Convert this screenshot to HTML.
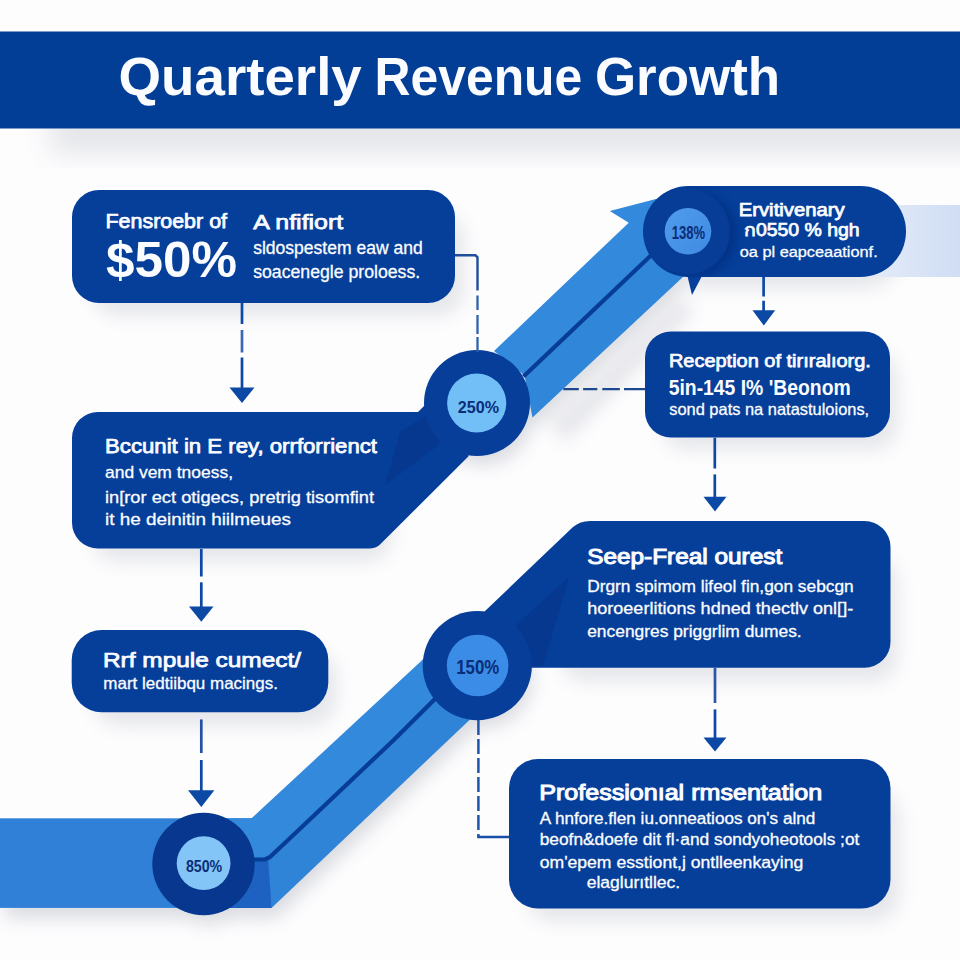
<!DOCTYPE html>
<html>
<head>
<meta charset="utf-8">
<title>Quarterly Revenue Growth</title>
<style>
html,body{margin:0;padding:0;background:#fdfdfe;}
body{width:960px;height:960px;overflow:hidden;font-family:"Liberation Sans",sans-serif;}
svg{display:block;}
text{font-family:"Liberation Sans",sans-serif;fill:#fbfcff;stroke:#fbfcff;stroke-width:0.3px;}
.sb{stroke-width:0.75px;}
.sb2{stroke-width:1.05px;}
.b{font-weight:bold;stroke:none;}
.pct{font-weight:bold;fill:#0a2d78;stroke:none;}
</style>
</head>
<body>
<svg width="960" height="960" viewBox="0 0 960 960">
<defs>
  <filter id="sh" x="-20%" y="-20%" width="140%" height="160%">
    <feGaussianBlur stdDeviation="9"/>
  </filter>
  <filter id="sh2" x="-20%" y="-20%" width="140%" height="160%">
    <feGaussianBlur stdDeviation="14"/>
  </filter>
  <linearGradient id="band" x1="0" y1="0" x2="1" y2="0">
    <stop offset="0" stop-color="#e6edf9"/>
    <stop offset="1" stop-color="#d0ddf4"/>
  </linearGradient>
  <radialGradient id="in1" cx="0.5" cy="0.4" r="0.7">
    <stop offset="0" stop-color="#74bcf8"/>
    <stop offset="1" stop-color="#4f9fee"/>
  </radialGradient>
  <filter id="sh3" x="-30%" y="-30%" width="160%" height="160%"><feGaussianBlur stdDeviation="4"/></filter>
  <clipPath id="pillclip"><rect x="643" y="186" width="263" height="91" rx="45.5"/></clipPath>
  <linearGradient id="in3" x1="0" y1="0" x2="1" y2="1">
    <stop offset="0" stop-color="#4f9bec"/>
    <stop offset="1" stop-color="#3f8be2"/>
  </linearGradient>
</defs>

<!-- background -->
<rect x="0" y="0" width="960" height="960" fill="#fdfdfe"/>

<!-- SHADOWS -->
<g id="shadows" fill="#50546c" opacity="0.13" filter="url(#sh)">
  <rect x="92" y="212" width="372" height="104" rx="26"/>
  <rect x="92" y="436" width="300" height="126" rx="26"/>
  <rect x="92" y="650" width="245" height="76" rx="28"/>
  <rect x="662" y="352" width="236" height="98" rx="26"/>
  <rect x="560" y="556" width="338" height="126" rx="26"/>
  <rect x="526" y="790" width="374" height="132" rx="28"/>
  <rect x="662" y="215" width="240" height="74" rx="40"/>
</g>

<rect x="50" y="112" width="940" height="40" fill="#50546c" opacity="0.15" filter="url(#sh2)"/>
<!-- BANNER -->
<rect id="banner" x="0" y="31.5" width="960" height="97" fill="#023d96"/>

<!-- light band right -->
<rect x="860" y="205" width="100" height="72" fill="url(#band)"/>

<!-- RIBBONS placeholder -->
<g id="ribbons">
  <!-- ribbon soft shadow -->
  <g fill="#50546c" opacity="0.2" filter="url(#sh)" transform="translate(5,10)">
    <polygon points="0,840 271,840 271,908 470,719 445,690 271,850 271,908 0,908"/>
    <polygon points="529.6,416.7 681,275 660,260 510,400"/>
    <polygon points="545,415 675,290 690,300 560,432" opacity="0.7"/>
    <circle cx="477.3" cy="668" r="50"/>
    <circle cx="477" cy="405" r="50"/>
    <circle cx="203.5" cy="866" r="48"/>
  </g>
  <!-- lower horizontal ribbon -->
  <rect x="0" y="818.3" width="272" height="89.6" fill="#2f80d6"/>
  <!-- darker fold near circle 0 -->
  <polygon points="203,858 268,858 271.5,907.9 203,907.9" fill="#1d62c0"/>
  <!-- lower diagonal ribbon: upper band -->
  <polygon points="251.5,818.3 425,657.6 445,690 270,857 203,858 203,818.3" fill="#3389dc"/>
  <!-- lower diagonal ribbon: lower band -->
  <polygon points="270,857 445,690 470,719.5 271.5,907.9" fill="#2f84d8"/>
  <!-- lower centre line -->
  <polyline points="230,860 265,859.3 270,857 300,828.75 393.75,740 440,694" fill="none" stroke="#073c97" stroke-width="4.2" stroke-linejoin="round"/>

  <!-- upper diagonal ribbon: upper band -->
  <polygon points="494,351 628.75,222.7 609.8,211 656,199 700,240 650,256 524.5,375.5" fill="#3389dc"/>
  <!-- upper diagonal ribbon: lower band -->
  <polygon points="524.5,375.5 650,256 700,250 684,276 532.5,417.5" fill="#3086d9"/>
  <!-- upper centre line -->
  <line x1="523.5" y1="376.5" x2="653.5" y2="253" stroke="#073c97" stroke-width="4.2"/>
</g>

<!-- BOXES placeholder -->
<g id="boxes" fill="#053f9a">
  <!-- box 1 -->
  <rect x="72" y="190" width="383" height="113" rx="27"/>
  <!-- box 2 with diagonal right side -->
  <path d="M98,412 H418 L430,400 L477,403 L468.3,456.6 L380,544.5 Q376,548.5 369,548.5 H98 A26,26 0 0 1 72,522.5 V438 A26,26 0 0 1 98,412 Z"/>
  <!-- box 2 dark wedge -->
  <polygon points="385,485 400,432 427,415 477,403 436,447" fill="#063890"/>
  <!-- box 3 pill -->
  <rect x="643" y="186" width="263" height="91" rx="45.5"/>
  <!-- small barb below circle 3 -->
  <polygon points="686,270 703,274 692,295" fill="#053f9a"/>
  <!-- box 4 -->
  <rect x="645" y="331.5" width="245" height="106" rx="26"/>
  <!-- box 5 with diagonal left side -->
  <path d="M590,521 H864.5 A26,26 0 0 1 890.5,547 V641.7 A26,26 0 0 1 864.5,667.7 H500 L470,620 L484,612 L573,527 Q580,521 590,521 Z"/>
  <!-- box 5 dark wedge -->
  <polygon points="569,577 516,625 531,666 543,666" fill="#063890"/>
  <!-- box 6 -->
  <rect x="509" y="759" width="381.5" height="149.5" rx="29"/>
  <!-- box 7 -->
  <rect x="71.7" y="630" width="256.6" height="82.3" rx="30"/>
</g>

<!-- CIRCLES placeholder -->
<g id="circles">
  <!-- circle 0 (850%) -->
  <circle cx="203.5" cy="864" r="51.2" fill="#083790"/>
  <circle cx="203.6" cy="863.2" r="26.9" fill="#82c5f6"/>
  <!-- circle 1 (150%) -->
  <circle cx="477.3" cy="665.6" r="54.6" fill="#063e99"/>
  <circle cx="477.6" cy="665.5" r="30.8" fill="#3b8ce6"/>
  <!-- circle 2 (250%) -->
  <circle cx="477" cy="403" r="53" fill="#063e99"/>
  <circle cx="476.7" cy="403" r="29.6" fill="#72bff8"/>
  <!-- circle 3 (138%) -->
  <g clip-path="url(#pillclip)"><circle cx="694" cy="234" r="43" fill="#062a78" opacity="0.55" filter="url(#sh3)"/></g>
  <circle cx="687" cy="231.5" r="43" fill="#073c97"/>
  <circle cx="688" cy="231.3" r="23.3" fill="url(#in3)"/>
</g>

<!-- CONNECTORS placeholder -->
<g id="connectors" stroke="#0c49a4" fill="none" stroke-width="2.7">
  <!-- arrow 1: box1 -> box2 -->
  <line x1="242" y1="303" x2="242" y2="324"/>
  <line x1="242" y1="330" x2="242" y2="352.5" stroke="#3a68b4"/>
  <line x1="242" y1="357.5" x2="242" y2="388"/>
  <polygon points="229.5,387.5 254.5,387.5 242,403" fill="#0c49a4" stroke="none"/>
  <!-- arrow 2: box2 -> box7 -->
  <line x1="201.3" y1="549" x2="201.3" y2="576.5"/>
  <line x1="201.3" y1="582.3" x2="201.3" y2="607"/>
  <polygon points="189,606.5 213.5,606.5 201.3,621.7" fill="#0c49a4" stroke="none"/>
  <!-- arrow 7: box7 -> circle0 -->
  <line x1="201.3" y1="719.4" x2="201.3" y2="753" stroke="#2451a8"/>
  <line x1="201.3" y1="760" x2="201.3" y2="791"/>
  <polygon points="188,790.2 214.4,790.2 201.3,807" fill="#0c49a4" stroke="none"/>
  <!-- arrow 3: box3 -> box4 -->
  <line x1="763.6" y1="277" x2="763.6" y2="296.5"/>
  <line x1="763.6" y1="300.8" x2="763.6" y2="311"/>
  <polygon points="752.5,310.2 775.2,310.2 763.8,325.6" fill="#0c49a4" stroke="none"/>
  <!-- arrow 4: box4 -> box5 -->
  <line x1="714.8" y1="437.7" x2="714.8" y2="468.5"/>
  <line x1="714.8" y1="474.4" x2="714.8" y2="497.5"/>
  <polygon points="703.5,496.8 726.5,496.8 715,511.4" fill="#0c49a4" stroke="none"/>
  <!-- arrow 5: box5 -> box6 -->
  <line x1="715" y1="668" x2="715" y2="703" stroke="#2a56aa"/>
  <line x1="715" y1="709.4" x2="715" y2="738"/>
  <polygon points="703.5,737.4 726.5,737.4 715,751.5" fill="#0c49a4" stroke="none"/>
  <!-- connector box1 -> circle2 -->
  <polyline points="455,255.3 475.5,255.3 477.5,257.3 477.5,290.5" stroke-width="2.4" stroke="#1f4f9c"/>
  <line x1="477.5" y1="295.6" x2="477.5" y2="352" stroke-width="2.3" stroke="#2e62ac" stroke-dasharray="14.5 5 19 3 16 0"/>
  <!-- connector circle2 -> box4 -->
  <line x1="563.3" y1="389.2" x2="645" y2="389.2" stroke-width="2.2" stroke="#1d4790" stroke-dasharray="15.5 4.3 14.2 5 17.5 4.2 21"/>
  <!-- connector circle1 -> box6 -->
  <line x1="478.4" y1="720" x2="478.4" y2="837" stroke-width="2.5" stroke="#1f55aa" stroke-dasharray="15 4"/>
  <line x1="477.2" y1="837" x2="509" y2="837" stroke-width="2.5" stroke="#1a4fa6"/>
</g>

<!-- TEXT placeholder -->
<g id="texts">
  <text x="118.5" y="94.6" font-size="53.5" textLength="243.3" lengthAdjust="spacingAndGlyphs" class="b">Quarterly</text>
  <text x="374.5" y="94.6" font-size="53.5" textLength="207.8" lengthAdjust="spacingAndGlyphs" class="b">Revenue</text>
  <text x="594.9" y="94.6" font-size="53.5" textLength="185.3" lengthAdjust="spacingAndGlyphs" class="b">Growth</text>
  <text x="105.5" y="228.3" font-size="20" textLength="121.5" lengthAdjust="spacingAndGlyphs" class="sb">Fensroebr of</text>
  <text x="106" y="277.3" font-size="50" textLength="131" lengthAdjust="spacingAndGlyphs" class="b">$50%</text>
  <text x="253.2" y="229.3" font-size="20" textLength="90.0" lengthAdjust="spacingAndGlyphs" class="sb">A nfifiort</text>
  <text x="253.2" y="253.75" font-size="17.5" textLength="169.5" lengthAdjust="spacingAndGlyphs">sldospestem eaw and</text>
  <text x="253.2" y="277.5" font-size="17.5" textLength="167.0" lengthAdjust="spacingAndGlyphs">soacenegle proloess.</text>
  <text x="105.0" y="452.5" font-size="20" textLength="272.0" lengthAdjust="spacingAndGlyphs" class="sb">Bccunit in E rey, orrforrienct</text>
  <text x="105.0" y="478.25" font-size="17" textLength="128.0" lengthAdjust="spacingAndGlyphs">and vem tnoess,</text>
  <text x="105.0" y="502.5" font-size="17" textLength="269.0" lengthAdjust="spacingAndGlyphs">in[ror ect otigecs, pretrig tisomfint</text>
  <text x="105.0" y="524.5" font-size="17" textLength="186.0" lengthAdjust="spacingAndGlyphs">it he deinitin hiilmeues</text>
  <text x="103.0" y="666.5" font-size="20" textLength="198.0" lengthAdjust="spacingAndGlyphs" class="sb">Rrf mpule cumect/</text>
  <text x="103.3" y="689" font-size="16.5" textLength="174.7" lengthAdjust="spacingAndGlyphs">mart ledtiibqu macings.</text>
  <text x="738.7" y="215.5" font-size="17.5" textLength="106.0" lengthAdjust="spacingAndGlyphs" class="sb">Ervitivenary</text>
  <text x="743.7" y="235.5" font-size="17.5" textLength="116.0" lengthAdjust="spacingAndGlyphs" class="sb">ก0550 % hgh</text>
  <text x="739.7" y="257" font-size="15.5" textLength="138.0" lengthAdjust="spacingAndGlyphs">oa pl eapceaationf.</text>
  <text x="668.9" y="367" font-size="18.3" textLength="202.0" lengthAdjust="spacingAndGlyphs" class="sb">Reception of tirıralıorg.</text>
  <text x="668.7" y="394.8" font-size="22" textLength="182.0" lengthAdjust="spacingAndGlyphs" class="b">5in-145 I% 'Beonom</text>
  <text x="669.2" y="415.2" font-size="16.5" textLength="200.0" lengthAdjust="spacingAndGlyphs">sond pats na natastuloions,</text>
  <text x="587.2" y="563.5" font-size="21.5" textLength="195.0" lengthAdjust="spacingAndGlyphs" class="sb2">Seep-Freal ourest</text>
  <text x="587.2" y="592" font-size="15.8" textLength="266.5" lengthAdjust="spacingAndGlyphs">Drgrn spimom lifeol fin,gon sebcgn</text>
  <text x="587.2" y="613.5" font-size="15.8" textLength="266.0" lengthAdjust="spacingAndGlyphs">horoeerlitions hdned thectlv onl[]-</text>
  <text x="587.2" y="636.5" font-size="15.8" textLength="214.5" lengthAdjust="spacingAndGlyphs">encengres priggrlim dumes.</text>
  <text x="539.2" y="799.7" font-size="22" textLength="283.0" lengthAdjust="spacingAndGlyphs" class="sb2">Professionıal rmsentation</text>
  <text x="539.7" y="823.6" font-size="15.6" textLength="275.6" lengthAdjust="spacingAndGlyphs">A hnfore.flen iu.onneatioos on's alnd</text>
  <text x="539.7" y="845.2" font-size="15.6" textLength="319.7" lengthAdjust="spacingAndGlyphs">beofn&amp;doefe dit fl·and sondyoheotools ;ot</text>
  <text x="539.7" y="867.7" font-size="15.6" textLength="263.6" lengthAdjust="spacingAndGlyphs">om'epem esstiont,j ontlleenkaying</text>
  <text x="586.7" y="888.3" font-size="15.6" textLength="93.5" lengthAdjust="spacingAndGlyphs">elaglurıtllec.</text>
  <text x="185.9" y="871.5" font-size="16.5" textLength="36.3" lengthAdjust="spacingAndGlyphs" class="pct">850%</text>
  <text x="456.2" y="673.5" font-size="21" textLength="43" lengthAdjust="spacingAndGlyphs" class="pct">150%</text>
  <text x="457.8" y="412.6" font-size="17" textLength="41.2" lengthAdjust="spacingAndGlyphs" class="pct">250%</text>
  <text x="671.75" y="238.5" font-size="18" textLength="33.3" lengthAdjust="spacingAndGlyphs" class="pct">138%</text>
</g>
</svg>
</body>
</html>
